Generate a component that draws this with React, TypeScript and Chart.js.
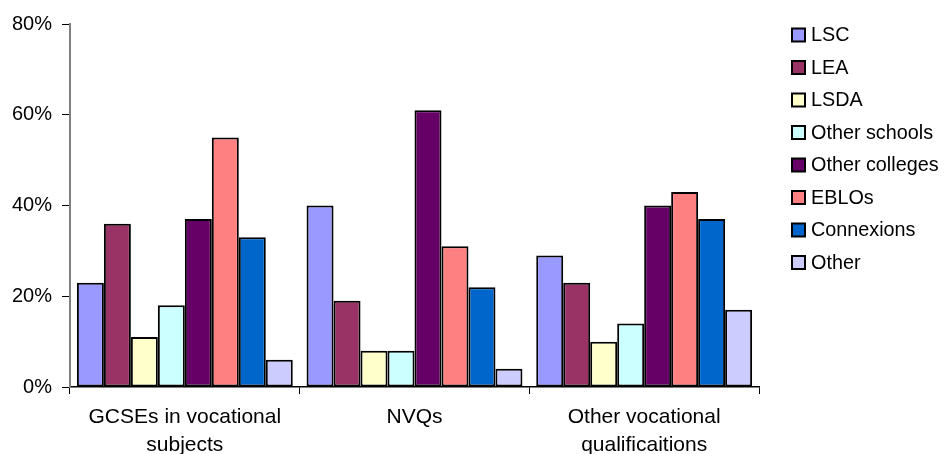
import React, { useEffect, useRef } from "react";
import { Chart, registerables } from "chart.js";

Chart.register(...registerables);

const categories: string[][] = [
  ["GCSEs in vocational", "subjects"],
  ["NVQs"],
  ["Other vocational", "qualificaitions"],
];

const seriesNames = [
  "LSC",
  "LEA",
  "LSDA",
  "Other schools",
  "Other colleges",
  "EBLOs",
  "Connexions",
  "Other",
];

const lsc = [23, 40, 29];
const lea = [36, 19, 23];
const lsda = [11, 8, 10];
const otherSchools = [18, 8, 14];
const otherColleges = [37, 61, 40];
const eblos = [55, 31, 43];
const connexions = [33, 22, 37];
const other = [6, 4, 17];

const seriesValues = [lsc, lea, lsda, otherSchools, otherColleges, eblos, connexions, other];

const seriesColors = [
  "#9999FF",
  "#993366",
  "#FFFFCC",
  "#CCFFFF",
  "#660066",
  "#FF8080",
  "#0066CC",
  "#CCCCFF",
];

const yTicks = [0, 20, 40, 60, 80];

const FONT = "'Liberation Sans', Arial, sans-serif";

const legendPlugin = {
  id: "customLegend",
  afterDraw(chart: any) {
    const ctx = chart.ctx;
    ctx.save();
    const boxX = 792;
    const box = 13;
    const startY = 35;
    const step = 32.5;
    ctx.font = `19.8px ${FONT}`;
    ctx.textBaseline = "middle";
    ctx.textAlign = "left";
    chart.data.datasets.forEach((ds: any, i: number) => {
      const cy = startY + i * step;
      ctx.fillStyle = ds.backgroundColor;
      ctx.fillRect(boxX, cy - box / 2, box, box);
      ctx.lineWidth = 2;
      ctx.strokeStyle = "#000";
      ctx.strokeRect(boxX, cy - box / 2, box, box);
      ctx.fillStyle = "#000";
      ctx.fillText(ds.label, boxX + box + 6, cy + 1);
    });
    ctx.restore();
  },
};

export default function App() {
  const ref = useRef<HTMLCanvasElement>(null);

  useEffect(() => {
    if (!ref.current) return;
    const chart = new Chart(ref.current, {
      type: "bar",
      data: {
        labels: categories,
        datasets: seriesNames.map((name, i) => ({
          label: name,
          data: seriesValues[i],
          backgroundColor: seriesColors[i],
          borderColor: "#000",
          borderWidth: 2,
          borderSkipped: false,
          categoryPercentage: 0.94,
          barPercentage: 1,
        })),
      },
      options: {
        animation: false,
        responsive: false,
        maintainAspectRatio: false,
        devicePixelRatio: 1,
        layout: { padding: { left: 0, top: 24, right: 185, bottom: 0 } },
        plugins: {
          legend: { display: false },
          tooltip: { enabled: false },
        },
        scales: {
          x: {
            offset: true,
            grid: {
              offset: true,
              drawOnChartArea: false,
              drawTicks: true,
              tickLength: 7,
              color: "#000",
            },
            border: { color: "#000", width: 1.5 },
            ticks: {
              color: "#000",
              font: { family: FONT, size: 21, lineHeight: 1.3 },
              padding: 10,
              maxRotation: 0,
              autoSkip: false,
            },
            afterFit: (scale: any) => {
              scale.height = 454 - 387;
            },
          },
          y: {
            min: 0,
            max: 80,
            afterBuildTicks: (scale: any) => {
              scale.ticks = yTicks.map((v) => ({ value: v }));
            },
            grid: {
              drawOnChartArea: false,
              drawTicks: true,
              tickLength: 8,
              color: "#000",
            },
            border: { color: "#808080", width: 2 },
            ticks: {
              color: "#000",
              font: { family: FONT, size: 20 },
              padding: 10,
              callback: (v: any) => `${v}%`,
            },
            afterFit: (scale: any) => {
              scale.width = 70;
            },
          },
        },
      },
      plugins: [legendPlugin],
    });
    return () => chart.destroy();
  }, []);

  return (
    <div style={{ position: "absolute", left: 0, top: 0, width: 944, height: 454, background: "#fff" }}>
      <canvas ref={ref} width={944} height={454} style={{ display: "block" }} />
    </div>
  );
}
